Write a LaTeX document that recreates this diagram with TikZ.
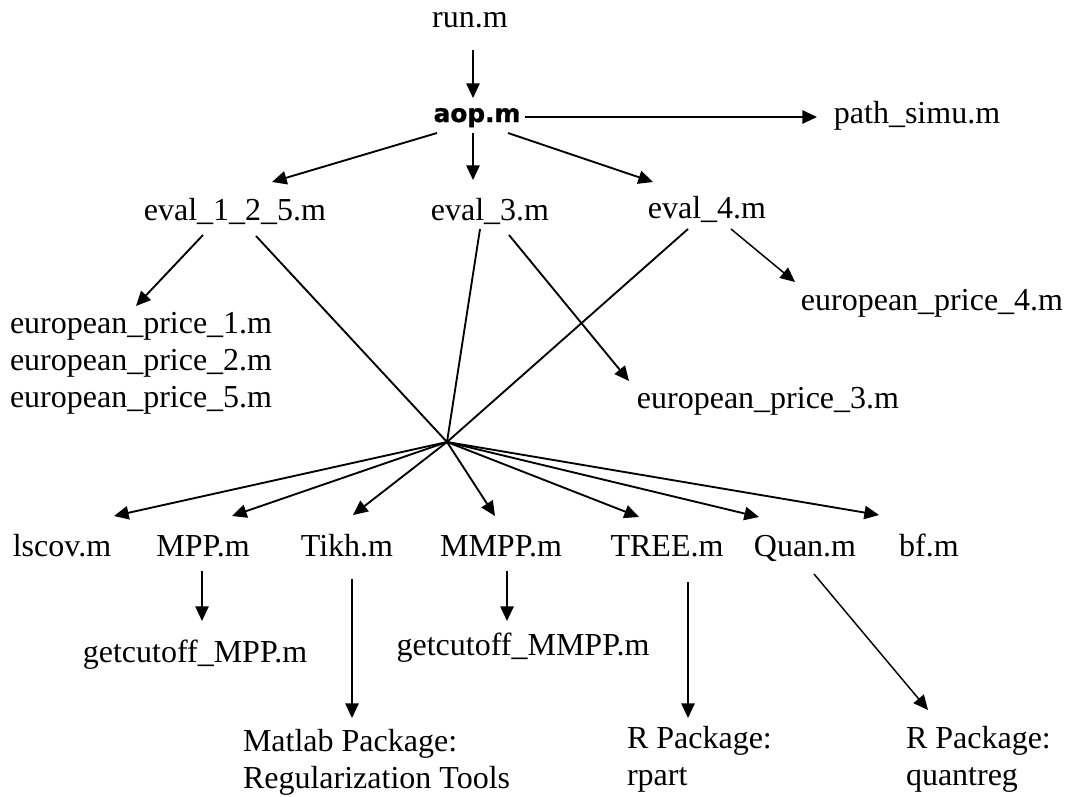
\documentclass[tikz,border=0pt]{standalone}
\usepackage{fontspec}
\setmainfont{Liberation Serif}
\newfontfamily\boldsans[BoldFeatures={FakeBold=1.2}]{DejaVu Sans}
\usetikzlibrary{arrows.meta,calc}
\begin{document}
\begin{tikzpicture}[x=0.75pt,y=-0.75pt,
  lbl/.style={inner sep=0pt,outer sep=0pt,font=\fontsize{24}{27.5}\selectfont,anchor=base},
  mlbl/.style={lbl,anchor=base west,align=left},
  arrowline/.style={line width=1.4pt,-{Triangle[length=11pt,width=10pt]}},
  thinarrow/.style={line width=1.1pt,-{Triangle[length=11pt,width=10pt]}},
  plainline/.style={line width=1.4pt}]
\useasboundingbox (0,0) rectangle (1069,796);
% nodes
\node[lbl] (run) at (470,27) {run.m};
\node[lbl,font=\boldsans\bfseries\fontsize{18.6}{22}\selectfont] (aop) at (477,122) {aop.m};
\node[lbl] (path) at (917,123) {path\_simu.m};
\node[lbl] (e125) at (235,220) {eval\_1\_2\_5.m};
\node[lbl] (e3) at (490,220) {eval\_3.m};
\node[lbl] (e4) at (707,218) {eval\_4.m};
\node[mlbl] (ep125) at (10,407) {european\_price\_1.m\\european\_price\_2.m\\european\_price\_5.m};
\node[lbl] (ep3) at (768,408) {european\_price\_3.m};
\node[lbl] (ep4) at (932,310) {european\_price\_4.m};
\coordinate (hub) at (447,442);
\node[lbl] (lscov) at (62,556) {lscov.m};
\node[lbl] (mpp) at (203,556) {MPP.m};
\node[lbl] (tikh) at (347,556) {Tikh.m};
\node[lbl] (mmpp) at (501,556) {MMPP.m};
\node[lbl] (tree) at (667,556) {TREE.m};
\node[lbl] (quan) at (805,556) {Quan.m};
\node[lbl] (bf) at (929,556) {bf.m};
\node[lbl] (gmpp) at (195,662) {getcutoff\_MPP.m};
\node[lbl] (gmmpp) at (523,655) {getcutoff\_MMPP.m};
\node[mlbl] (matlab) at (243,788) {Matlab Package:\\Regularization Tools};
\node[mlbl] (rpart) at (627,785) {R Package:\\rpart};
\node[mlbl] (quant) at (906,785) {R Package:\\quantreg};
% connectors
\draw[arrowline] ($(run.base)+(3,23)$) -- ($(aop.base)+(-4,-24)$);
\draw[arrowline] ($(aop.base)+(48,-5)$) -- ($(path.base)+(-100,-6)$);
\draw[arrowline] ($(aop.base)+(-40,11)$) -- ($(e125.base)+(37,-38)$);
\draw[arrowline] ($(aop.base)+(-4,11)$) -- ($(e3.base)+(-17,-40)$);
\draw[arrowline] ($(aop.base)+(31,11)$) -- ($(e4.base)+(-54,-36)$);
\draw[arrowline] ($(e125.base)+(-32,15)$) -- ($(ep125.base west)+(126,-101)$);
\draw[plainline] ($(e125.base)+(21,16)$) -- (hub);
\draw[plainline] ($(e3.base)+(-10,9)$) -- (hub);
\draw[plainline] ($(e4.base)+(-19,11)$) -- (hub);
\draw[arrowline] ($(e3.base)+(19,15)$) -- ($(ep3.base)+(-139,-27)$);
\draw[thinarrow] ($(e4.base)+(24,11)$) -- ($(ep4.base)+(-137,-28)$);
\draw[arrowline] (hub) -- ($(lscov.base)+(52,-40)$);
\draw[arrowline] (hub) -- ($(mpp.base)+(29,-40)$);
\draw[arrowline] (hub) -- ($(tikh.base)+(6,-41)$);
\draw[arrowline] (hub) -- ($(mmpp.base)+(-6,-40)$);
\draw[arrowline] (hub) -- ($(tree.base)+(-28,-39)$);
\draw[arrowline] (hub) -- ($(quan.base)+(-46,-39)$);
\draw[arrowline] (hub) -- ($(bf.base)+(-50,-41)$);
\draw[thinarrow] ($(mpp.base)+(-1,15)$) -- ($(gmpp.base)+(7,-41)$);
\draw[arrowline] ($(tikh.base)+(5,23)$) -- ($(matlab.base west)+(109,-70)$);
\draw[arrowline] ($(mmpp.base)+(6,15)$) -- ($(gmmpp.base)+(-16,-34)$);
\draw[arrowline] ($(tree.base)+(21,26)$) -- ($(rpart.base west)+(61,-67)$);
\draw[thinarrow] ($(quan.base)+(9,18)$) -- ($(quant.base west)+(22,-75)$);
\end{tikzpicture}
\end{document}
